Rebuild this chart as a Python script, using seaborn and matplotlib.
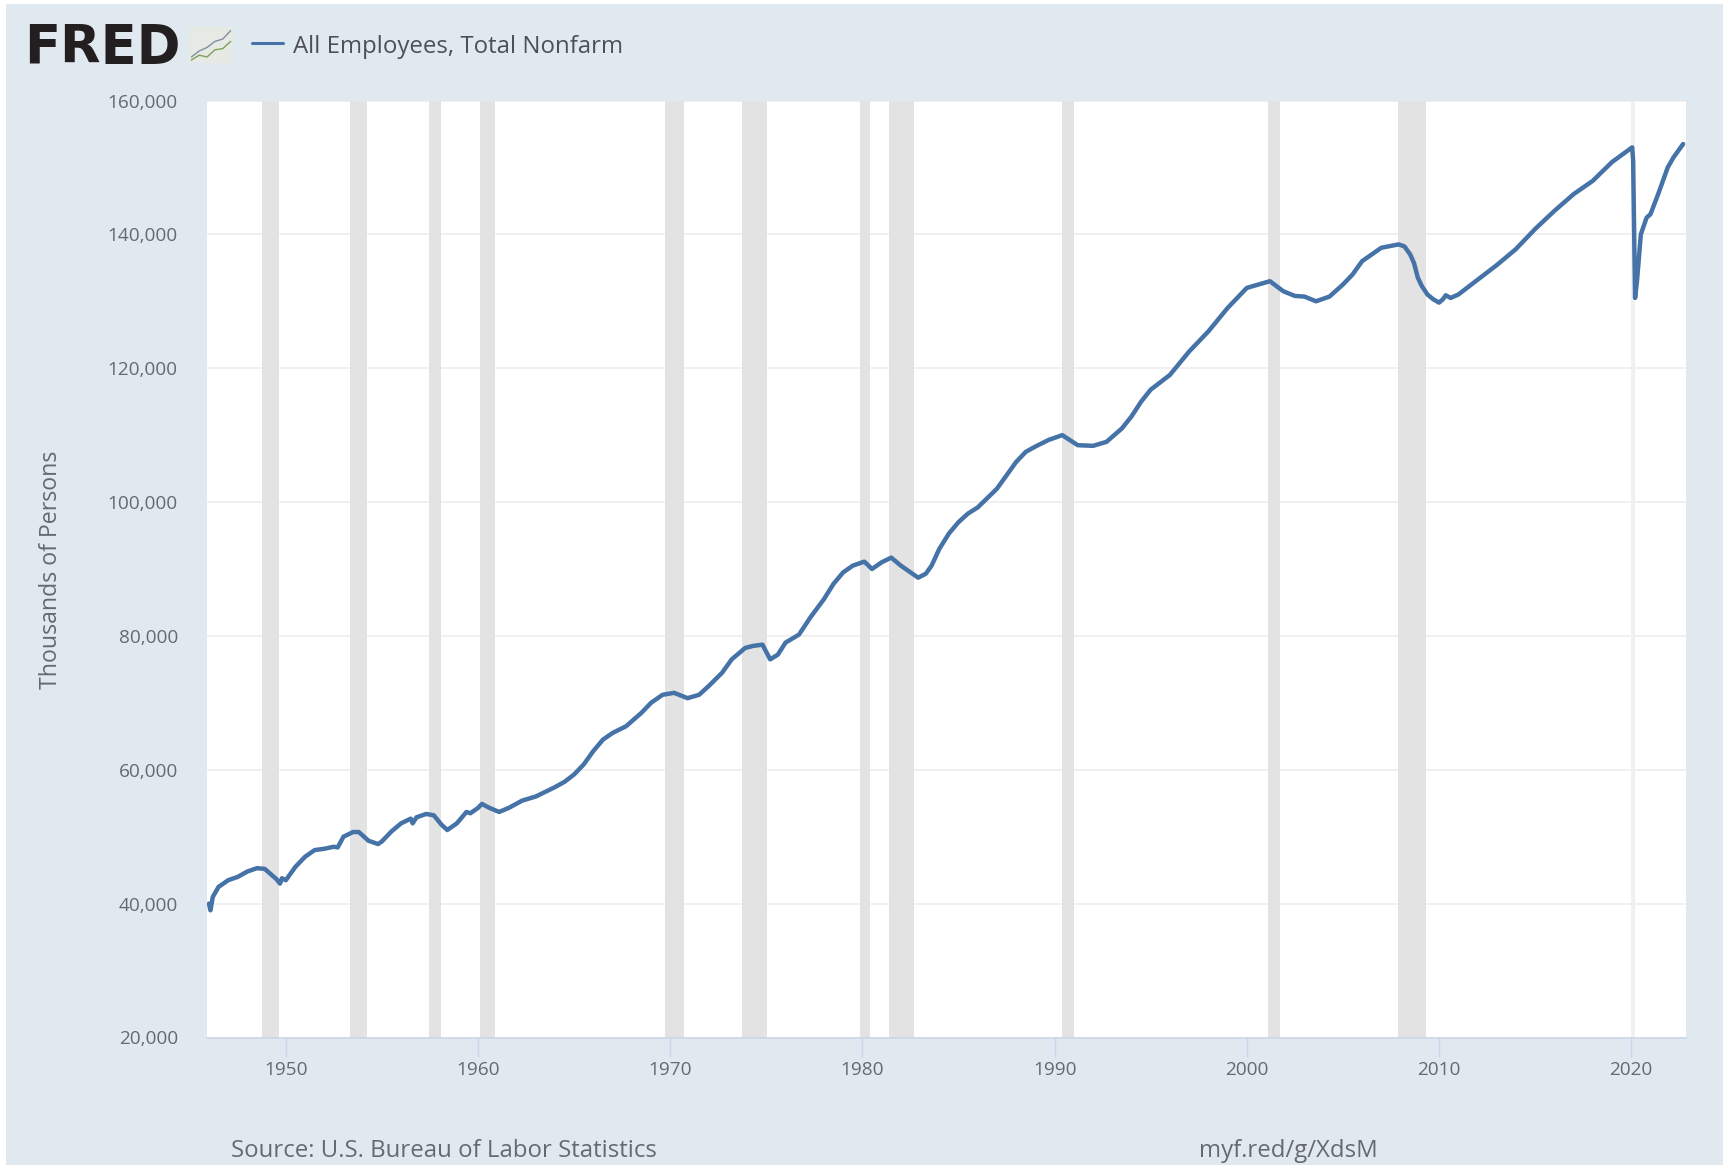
import matplotlib
matplotlib.use("Agg")
import matplotlib.pyplot as plt
from matplotlib.patches import Rectangle
from matplotlib.ticker import FuncFormatter
import seaborn as sns
import pandas as pd

years = [1946.0,1946.08,1946.2,1946.5,1947,1947.5,1948,1948.5,1948.9,1949.5,1949.7,1949.8,1950,1950.5,1951,1951.5,1952,1952.5,1952.7,1953,1953.5,1953.8,1954.3,1954.8,1955,1955.5,1956,1956.5,1956.6,1956.8,1957.3,1957.7,1958.1,1958.4,1958.9,1959.4,1959.6,1960.0,1960.2,1960.6,1961.1,1961.6,1962.3,1963,1964,1964.5,1965,1965.5,1966,1966.5,1967,1967.7,1968.5,1969,1969.6,1970.2,1970.9,1971.5,1972,1972.7,1973.2,1973.9,1974.3,1974.8,1975.2,1975.6,1976,1976.7,1977.3,1978,1978.5,1979,1979.5,1980.1,1980.5,1981,1981.5,1982,1982.9,1983.3,1983.6,1984,1984.5,1985,1985.5,1986,1987,1987.5,1988,1988.5,1989,1989.7,1990.4,1991.2,1992,1992.7,1993.5,1994,1994.5,1995,1996,1997,1998,1999,2000,2000.6,2001.2,2001.9,2002.5,2003,2003.6,2004.3,2005,2005.5,2006,2007,2007.9,2008.2,2008.5,2008.7,2008.9,2009.1,2009.4,2009.7,2010,2010.2,2010.35,2010.6,2011,2012,2013,2014,2015,2016,2017,2018,2019,2020.05,2020.1,2020.2,2020.3,2020.5,2020.8,2021.0,2021.4,2021.9,2022.2,2022.7]
employees = [40000,39000,41000,42500,43500,44000,44800,45300,45200,43700,43000,43800,43500,45500,47000,48000,48200,48500,48400,50000,50700,50700,49400,48900,49300,50800,52000,52700,52000,52900,53400,53200,51800,51000,52000,53700,53500,54300,54900,54300,53700,54300,55400,56000,57400,58200,59300,60800,62800,64500,65500,66500,68500,70000,71200,71500,70700,71200,72500,74500,76500,78200,78500,78700,76500,77200,79000,80200,82800,85500,87800,89500,90500,91100,90000,91000,91700,90500,88700,89300,90500,93000,95300,97000,98300,99200,102000,104000,106000,107500,108300,109300,110000,108500,108400,109000,111000,112800,115000,116800,119000,122500,125500,129000,132000,132500,133000,131500,130800,130700,130000,130700,132500,134000,136000,138000,138500,138200,137000,135700,133500,132300,131000,130300,129800,130300,130900,130500,131000,133200,135400,137800,140800,143500,146000,148000,150800,153000,151000,130500,133000,140000,142500,143000,146000,150000,151500,153500]
rec_start = [1948.75,1953.35,1957.45,1960.1,1969.75,1973.75,1979.9,1981.4,1990.4,2001.1,2007.85]
rec_end = [1949.65,1954.2,1958.1,1960.9,1970.7,1975.05,1980.4,1982.7,1991.0,2001.75,2009.3]
covid_start = 2020.0
covid_end = 2020.2
y_ticks = [20000,40000,60000,80000,100000,120000,140000,160000]
x_ticks = [1950,1960,1970,1980,1990,2000,2010,2020]
icon_x = [0,1,2,3,4,5]
icon_a = [1,2,2.6,3.6,4,5.4]
icon_b = [0.5,1.3,1,2.2,2.4,3.6]

W, H = 1724, 1167
BG = "#e1e9f0"; LINE = "#4572a7"; TXT = "#666a70"

sns.set_theme(style="white")
plt.rcParams["font.family"] = ["Open Sans", "DejaVu Sans"]

fig = plt.figure(figsize=(W/100, H/100), dpi=100, facecolor="white")
fig.add_artist(Rectangle((6/W, 2/H), 1 - 6/W, 1 - 6/H, transform=fig.transFigure, fc=BG, ec="none", zorder=-5))

ax = fig.add_axes([207/W, 1 - 1037.5/H, (1686-207)/W, (1037.5-100.5)/H], facecolor="white")
for s, e in zip(rec_start, rec_end):
    ax.axvspan(s, e, color="#e3e3e3", lw=0, zorder=1)
ax.axvspan(covid_start, covid_end, color="#f0f0f0", lw=0, zorder=1)
ax.grid(axis="y", color="#ececec", lw=1.1, zorder=0)
ax.set_axisbelow(True)
df = pd.DataFrame({"year": years, "employees": employees})
sns.lineplot(data=df, x="year", y="employees", ax=ax, color=LINE, lw=3.2, zorder=3, errorbar=None, estimator=None)
ax.set_xlim(1945.9, 2022.85)
ax.set_ylim(20000, 160000)
ax.set_xticks(x_ticks)
ax.set_yticks(y_ticks)
ax.yaxis.set_major_formatter(FuncFormatter(lambda v, _: f"{int(v):,}"))
ax.tick_params(axis="x", length=14, width=1, color="#ccd6eb", labelsize=13.7, labelcolor=TXT, pad=2.6, bottom=True)
ax.tick_params(axis="y", length=0, labelsize=13.7, labelcolor=TXT, pad=21)
for side in ["top", "left", "right"]:
    ax.spines[side].set_visible(False)
ax.spines["bottom"].set_color("#ccd6eb")
ax.spines["bottom"].set_linewidth(1.2)
ax.set_xlabel("")
ax.set_ylabel("")
fig.text(51/W, 1 - 570/H, "Thousands of Persons", rotation=90, ha="center", va="center", fontsize=16.7, color=TXT)

# header
fig.text(24/W, 1 - 48/H, "FRED", family="DejaVu Sans", weight="bold", fontsize=38, color="#231f20", ha="left", va="center")
icon = fig.add_axes([189/W, 1 - 63/H, 44/W, 36/H], facecolor="#e6e9e4")
icon.plot(icon_x, icon_a, color="#7f8fa0", lw=1)
icon.plot(icon_x, icon_b, color="#7fa05a", lw=1)
icon.set_xticks([]); icon.set_yticks([])
icon.set_xlim(-0.3, 5.3); icon.set_ylim(0, 6)
for s in icon.spines.values():
    s.set_visible(False)
fig.add_artist(plt.Line2D([252/W, 283/W], [1 - 43/H, 1 - 43/H], color=LINE, lw=2.2))
fig.text(293/W, 1 - 47/H, "All Employees, Total Nonfarm", fontsize=17.3, color="#4d5156", ha="left", va="center")

# footer
fig.text(231/W, 1 - 1151/H, "Source: U.S. Bureau of Labor Statistics", fontsize=17.3, color=TXT, ha="left", va="center")
fig.text(1199/W, 1 - 1151/H, "myf.red/g/XdsM", fontsize=17.3, color=TXT, ha="left", va="center")

fig.savefig("out.png", dpi=100, facecolor="white")
